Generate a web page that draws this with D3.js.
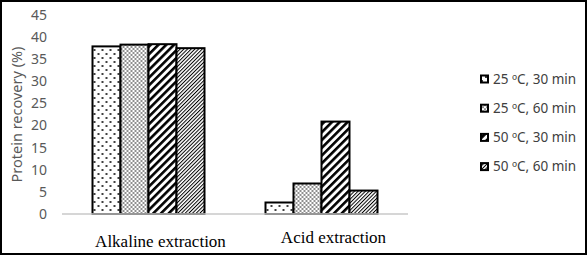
<!DOCTYPE html>
<html>
<head>
<meta charset="utf-8">
<script src="https://cdn.jsdelivr.net/npm/d3@7"></script>
<style>
	body { margin: 0; background: #fff; }
	svg { display: block; }
</style>
</head>
<body>
<div id="chart"></div>
<script>
	///////////////////////////////////////////////////////////////////////////
	//////////////////////////////// Data /////////////////////////////////////
	///////////////////////////////////////////////////////////////////////////

	var categories = ["Alkaline extraction", "Acid extraction"];
	var seriesNames = ["25 ºC, 30 min", "25 ºC, 60 min", "50 ºC, 30 min", "50 ºC, 60 min"];
	//values per series, in the order of the categories
	var s25_30 = [37.9, 2.6];
	var s25_60 = [38.3, 6.9];
	var s50_30 = [38.4, 20.9];
	var s50_60 = [37.5, 5.3];
	var yTicks = [0, 5, 10, 15, 20, 25, 30, 35, 40, 45];

	var seriesValues = [s25_30, s25_60, s50_30, s50_60];

	///////////////////////////////////////////////////////////////////////////
	//////////////////////////////// Setup ////////////////////////////////////
	///////////////////////////////////////////////////////////////////////////

	var W = 588, H = 256;
	var svg = d3.select("#chart").append("svg")
		.attr("width", W)
		.attr("height", H);

	//Outer frame
	svg.append("rect")
		.attr("x", 1).attr("y", 1)
		.attr("width", 585).attr("height", 253)
		.style("fill", "none")
		.style("stroke", "#000")
		.style("stroke-width", 2);

	var x0 = d3.scaleBand().domain(categories).range([62, 408]).paddingInner(0).paddingOuter(0);
	var x1 = d3.scaleBand().domain(seriesNames).range([0, 112]);
	var y = d3.scaleLinear().domain([0, 45]).range([214, 15]);

	///////////////////////////////////////////////////////////////////////////
	////////////////////////////// Patterns ///////////////////////////////////
	///////////////////////////////////////////////////////////////////////////

	var defs = svg.append("defs");

	//Sparse dots
	var p0 = defs.append("pattern").attr("id", "pat-0")
		.attr("patternUnits", "userSpaceOnUse").attr("width", 8).attr("height", 8);
	p0.append("rect").attr("width", 8).attr("height", 8).style("fill", "#fff");
	p0.append("circle").attr("cx", 2).attr("cy", 2).attr("r", 1).style("fill", "#000");
	p0.append("circle").attr("cx", 6).attr("cy", 6).attr("r", 1).style("fill", "#000");

	//Dense dots
	var p1 = defs.append("pattern").attr("id", "pat-1")
		.attr("patternUnits", "userSpaceOnUse").attr("width", 4).attr("height", 4);
	p1.append("rect").attr("width", 4).attr("height", 4).style("fill", "#fff");
	p1.append("circle").attr("cx", 1).attr("cy", 1).attr("r", 0.8).style("fill", "#000");
	p1.append("circle").attr("cx", 3).attr("cy", 3).attr("r", 0.8).style("fill", "#000");

	//Wide diagonal stripes
	var p2 = defs.append("pattern").attr("id", "pat-2")
		.attr("patternUnits", "userSpaceOnUse").attr("width", 5.5).attr("height", 5.5)
		.attr("patternTransform", "rotate(45)");
	p2.append("rect").attr("width", 5.5).attr("height", 5.5).style("fill", "#fff");
	p2.append("rect").attr("width", 2.6).attr("height", 5.5).style("fill", "#000");

	//Narrow diagonal stripes
	var p3 = defs.append("pattern").attr("id", "pat-3")
		.attr("patternUnits", "userSpaceOnUse").attr("width", 2.6).attr("height", 2.6)
		.attr("patternTransform", "rotate(45)");
	p3.append("rect").attr("width", 2.6).attr("height", 2.6).style("fill", "#fff");
	p3.append("rect").attr("width", 1).attr("height", 2.6).style("fill", "#000");

	///////////////////////////////////////////////////////////////////////////
	//////////////////////////////// Axes /////////////////////////////////////
	///////////////////////////////////////////////////////////////////////////

	svg.selectAll(".yTick")
		.data(yTicks)
		.enter().append("text")
		.attr("class", "yTick")
		.attr("x", 47)
		.attr("y", function(d) { return y(d); })
		.attr("dy", "0.35em")
		.style("text-anchor", "end")
		.style("font-family", "'Noto Sans', sans-serif")
		.style("font-size", "14px")
		.style("fill", "#595959")
		.text(function(d) { return d; });

	svg.append("text")
		.attr("transform", "translate(17," + y(22.5) + ") rotate(-90)")
		.attr("dy", "0.35em")
		.style("text-anchor", "middle")
		.style("font-family", "'Noto Sans', sans-serif")
		.style("font-size", "14.5px")
		.style("fill", "#595959")
		.text("Protein recovery (%)");

	//Category labels
	svg.selectAll(".catLabel")
		.data(categories)
		.enter().append("text")
		.attr("class", "catLabel")
		.attr("x", function(d) { return x0(d) + x0.bandwidth()/2 + 12; })
		.attr("y", function(d, i) { return i === 0 ? 241 : 237; })
		.attr("dy", "0.35em")
		.style("text-anchor", "middle")
		.style("font-family", "'Liberation Serif', 'Times New Roman', serif")
		.style("font-size", "17px")
		.style("fill", "#000")
		.text(function(d) { return d; });

	///////////////////////////////////////////////////////////////////////////
	//////////////////////////////// Bars /////////////////////////////////////
	///////////////////////////////////////////////////////////////////////////

	var groups = svg.selectAll(".group")
		.data(categories)
		.enter().append("g")
		.attr("class", "group")
		.attr("transform", function(d) { return "translate(" + (x0(d) + (x0.bandwidth() - 112)/2) + ",0)"; });

	groups.selectAll(".bar")
		.data(function(d, ci) {
			return seriesNames.map(function(s, si) { return { series: s, si: si, value: seriesValues[si][ci] }; });
		})
		.enter().append("rect")
		.attr("class", "bar")
		.attr("x", function(d) { return x1(d.series); })
		.attr("y", function(d) { return y(d.value); })
		.attr("width", x1.bandwidth())
		.attr("height", function(d) { return y(0) - y(d.value); })
		.style("fill", function(d) { return "url(#pat-" + d.si + ")"; })
		.style("stroke", "#000")
		.style("stroke-width", 2);

	//x axis line
	svg.append("line")
		.attr("x1", 62).attr("x2", 408)
		.attr("y1", y(0)).attr("y2", y(0))
		.style("stroke", "#c8c8c8")
		.style("stroke-width", 1.5);

	///////////////////////////////////////////////////////////////////////////
	/////////////////////////////// Legend ////////////////////////////////////
	///////////////////////////////////////////////////////////////////////////

	var legend = svg.selectAll(".legendItem")
		.data(seriesNames)
		.enter().append("g")
		.attr("class", "legendItem")
		.attr("transform", function(d, i) { return "translate(480," + (79 + i*29.2) + ")"; });

	legend.append("rect")
		.attr("x", 1).attr("y", -3.5)
		.attr("width", 7).attr("height", 7)
		.style("fill", function(d, i) { return "url(#pat-" + i + ")"; })
		.style("stroke", "#000")
		.style("stroke-width", 2);

	legend.append("text")
		.attr("x", 13)
		.attr("dy", "0.35em")
		.style("font-family", "'Noto Sans', sans-serif")
		.style("font-size", "13.5px")
		.style("fill", "#404040")
		.text(function(d) { return d; });
</script>
</body>
</html>
